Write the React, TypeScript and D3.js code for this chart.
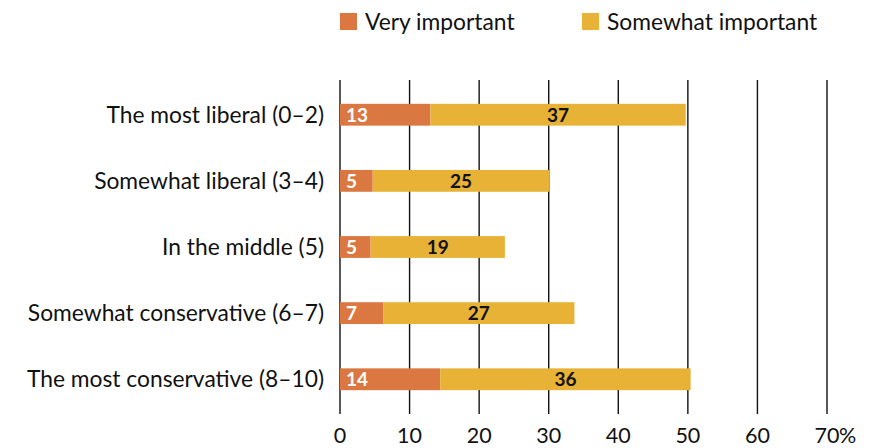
import React from "react";
import * as d3 from "d3";

const categories = [
  "The most liberal (0–2)",
  "Somewhat liberal (3–4)",
  "In the middle (5)",
  "Somewhat conservative (6–7)",
  "The most conservative (8–10)",
];
const veryImportant = [13.0, 4.7, 4.4, 6.2, 14.4];
const somewhatImportant = [36.7, 25.4, 19.3, 27.5, 36.0];
const veryLabels = ["13", "5", "5", "7", "14"];
const somewhatLabels = ["37", "25", "19", "27", "36"];
const ticks = [0, 10, 20, 30, 40, 50, 60, 70];
const seriesNames = ["Very important", "Somewhat important"];

const COLORS = ["#DB7841", "#E8B237"];
const FONT = "Lato, 'Noto Sans', sans-serif";

export default function App() {
  const W = 877, H = 448;
  const x = d3.scaleLinear().domain([0, 70]).range([340, 827]);
  const y = d3.scaleBand().domain(categories).range([82, 412]).paddingInner(0.67).paddingOuter(0.33);
  const bh = y.bandwidth();

  return (
    <svg width={W} height={H} style={{ position: "absolute", left: 0, top: 0, fontFamily: FONT }}>
      {/* legend */}
      <rect x={340} y={13} width={17} height={17} fill={COLORS[0]} />
      <text x={365} y={30} fontSize={22.8} fill="#111">{seriesNames[0]}</text>
      <rect x={582} y={13} width={17} height={17} fill={COLORS[1]} />
      <text x={607} y={30} fontSize={22.8} fill="#111">{seriesNames[1]}</text>

      {/* grid lines */}
      {ticks.map((t) => (
        <line key={t} x1={x(t)} x2={x(t)} y1={80} y2={414} stroke="#111" strokeWidth={1.4} />
      ))}

      {/* bars */}
      {categories.map((c, i) => {
        const y0 = y(c)!;
        const v = veryImportant[i];
        const s = somewhatImportant[i];
        return (
          <g key={c}>
            <rect x={x(0)} y={y0} width={x(v) - x(0)} height={bh} fill={COLORS[0]} />
            <rect x={x(v)} y={y0} width={x(v + s) - x(v)} height={bh} fill={COLORS[1]} />
            <text x={x(0) + 6} y={y0 + bh / 2} dy="0.36em" fontSize={19} fontWeight={700} fill="#fff">
              {veryLabels[i]}
            </text>
            <text x={(x(v) + x(v + s)) / 2} y={y0 + bh / 2} dy="0.36em" fontSize={19} fontWeight={700} fill="#111" textAnchor="middle">
              {somewhatLabels[i]}
            </text>
            <text x={324} y={y0 + bh / 2} dy="0.36em" fontSize={22.8} fill="#111" textAnchor="end">
              {c}
            </text>
          </g>
        );
      })}

      {/* tick labels */}
      {ticks.map((t, i) => (
        <g key={"l" + t}>
          <text x={x(t)} y={443} fontSize={21.5} fill="#111" textAnchor="middle">{String(t)}</text>
          {i === ticks.length - 1 && (
            <text x={x(t) + 12} y={443} fontSize={21.5} fill="#111">%</text>
          )}
        </g>
      ))}
    </svg>
  );
}
